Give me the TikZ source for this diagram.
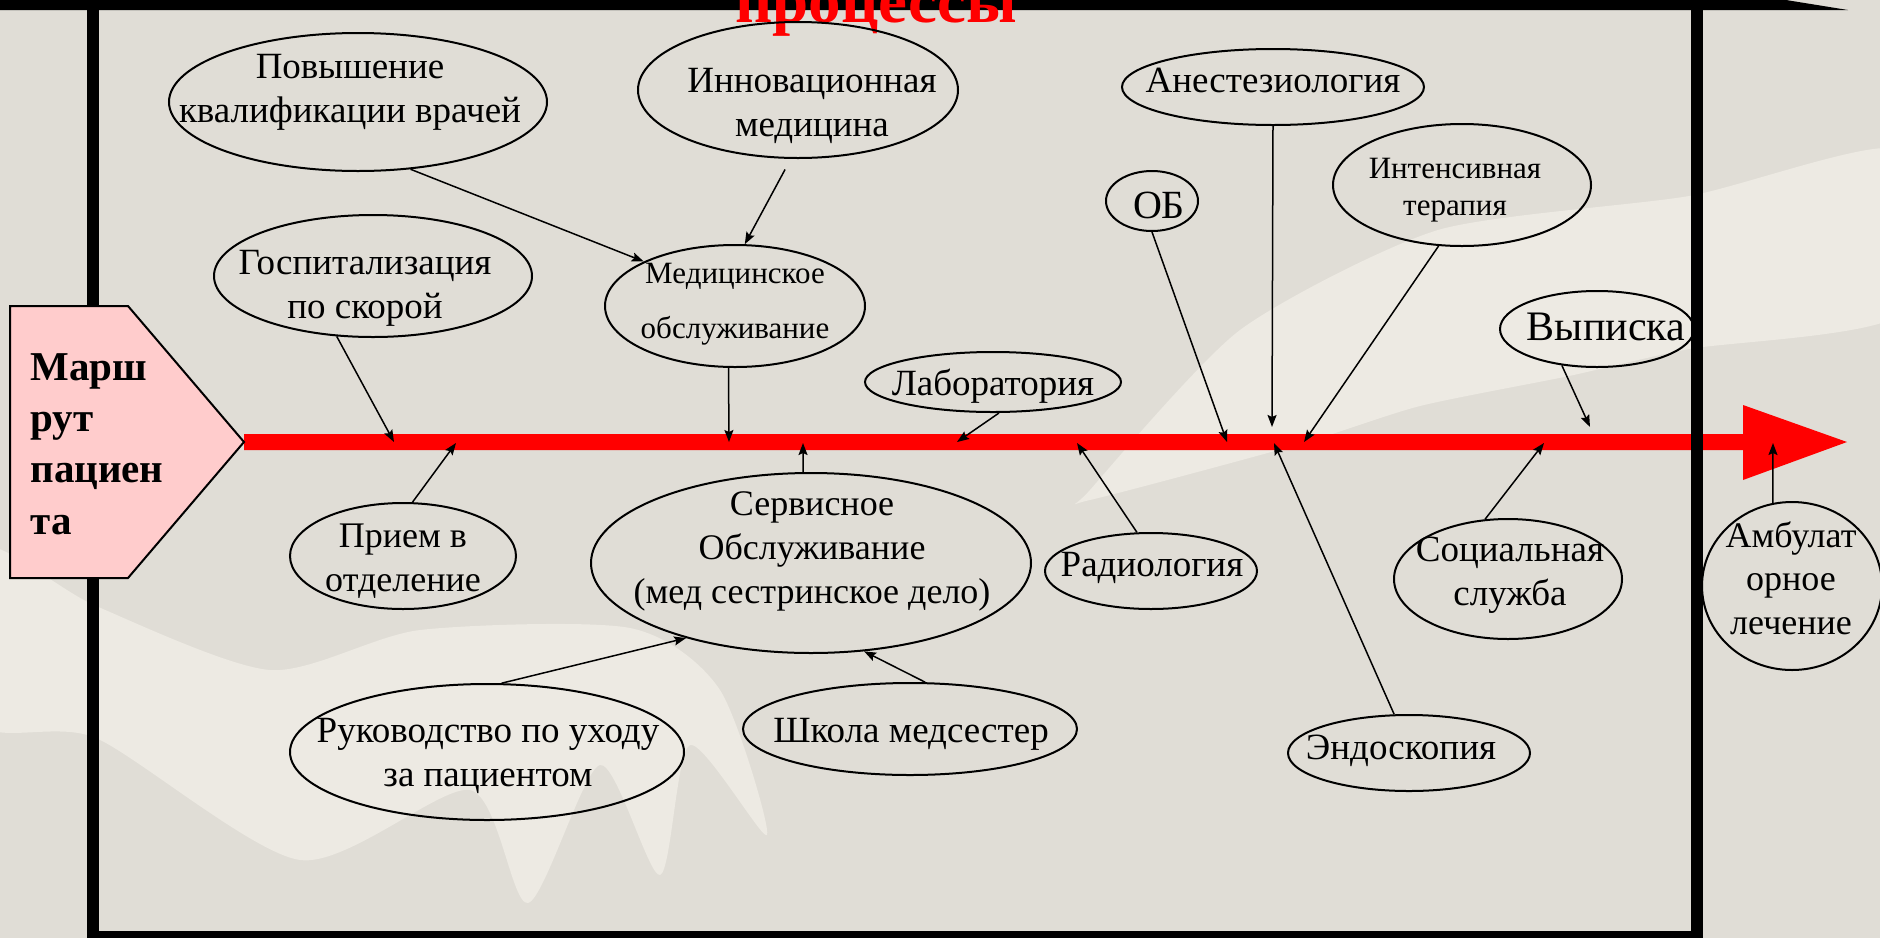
\documentclass[tikz,border=0pt]{standalone}
\usepackage{fontspec}
\setmainfont{Liberation Serif}
\usetikzlibrary{arrows.meta}
\usetikzlibrary{shapes.geometric}

\definecolor{slide}{RGB}{224,221,214}
\definecolor{slidelight}{RGB}{237,234,227}
\definecolor{pinkbox}{RGB}{255,204,204}

\tikzset{
    oval/.style 2 args={draw, ellipse, line width=1pt, inner sep=0pt,
        minimum width=#1pt, minimum height=#2pt},
    lbl/.style={align=center, inner sep=0pt, font=\fontsize{18.5}{22}\selectfont},
    link/.style={-{Stealth[length=6pt, width=4.5pt, inset=1pt]}, line width=0.75pt},
}

\begin{document}
\begin{tikzpicture}[x=0.5pt, y=-0.5pt]
    \useasboundingbox (0,0) rectangle (1880,938);
    \fill[slide] (0,0) rectangle (1880,938);

    % Faint hands in the background
    \fill[slidelight] plot[smooth cycle, tension=0.45] coordinates {(-20,548) (96,606) (270,670) (420,630)
        (630,628) (720,690) (767,835) (690,745) (660,875) (600,765) (528,903) (470,790) (300,860)
        (96,738) (-20,722)};
    \fill[slidelight] plot[smooth cycle, tension=0.4] coordinates {(1090,490) (1240,330) (1438,230)
        (1689,196) (1900,150) (1900,314) (1689,349) (1569,376) (1420,406) (1300,444) (1090,500)};

    % Frame
    \fill[black] (0,0) -- (1786,0) -- (1848,10) -- (0,10) -- cycle;
    \fill[black] (87,0) rectangle (99,938);
    \fill[black] (87,931) rectangle (1703,938);

    % Title (cut by the top edge)
    \node[anchor=base, inner sep=0pt, text=red, font=\fontsize{32.5}{36}\selectfont\bfseries] (title) at (876,22) {процессы};

    % Spine
    \coordinate (tip) at (244,442);
    \coordinate (head) at (1847,442);
    \fill[red] (244,434) -- (1743,434) -- (1743,405) -- (head) -- (1743,480) -- (1743,450) -- (244,450) -- cycle;
    \fill[black] (1691,0) rectangle (1703,938);

    % Patient route
    \draw[fill=pinkbox, line width=1pt] (10,306) -- (128,306) -- (tip) -- (128,578) -- (10,578) -- cycle;
    \node[anchor=west, align=left, inner sep=0pt, font=\fontsize{20.5}{25.7}\selectfont\bfseries] (route) at (30,444) {Марш\\рут\\пациен\\та};

    % Above the spine
    \node[oval={189}{69}] (pov) at (358,102) {};
    \node[lbl] (pov-t) at (350,92) {Повышение\\квалификации врачей};
    \node[oval={160}{68}] (inn) at (798,90) {};
    \node[lbl] (inn-t) at (812,106) {Инновационная\\медицина};
    \node[oval={151}{38}] (anest) at (1273,87) {};
    \node[lbl, anchor=base] (anest-t) at (1273,92) {Анестезиология};
    \node[oval={46}{30}] (ob) at (1152,201) {};
    \node[lbl, anchor=base, font=\fontsize{20}{24}\selectfont] (ob-t) at (1159,218) {ОБ};
    \node[oval={129}{61}] (intens) at (1462,185) {};
    \node[lbl, font=\fontsize{15.5}{18.5}\selectfont] (intens-t) at (1455,190) {Интенсивная\\терапия};
    \node[oval={159}{61}] (gosp) at (373,276) {};
    \node[lbl] (gosp-t) at (365,288) {Госпитализация\\по скорой};
    \node[oval={130}{61}] (med) at (735,306) {};
    \node[lbl, font=\fontsize{15.5}{27.5}\selectfont] (med-t) at (735,304) {Медицинское\\обслуживание};
    \node[oval={128}{30}] (lab) at (993,382) {};
    \node[lbl, anchor=base] (lab-t) at (993,395) {Лаборатория};
    \node[oval={97}{38}] (vyp) at (1597,329) {};
    \node[lbl, anchor=base, font=\fontsize{21}{25}\selectfont] (vyp-t) at (1606,340) {Выписка};

    % Below the spine
    \node[oval={113}{53}] (priem) at (403,556) {};
    \node[lbl, font=\fontsize{18}{22}\selectfont] (priem-t) at (403,561) {Прием в\\отделение};
    \node[oval={220}{90}] (serv) at (811,563) {};
    \node[lbl, font=\fontsize{18}{22}\selectfont] (serv-t) at (812,551) {Сервисное\\Обслуживание\\(мед сестринское дело)};
    \node[oval={106}{38}] (radio) at (1151,571) {};
    \node[lbl, anchor=base] (radio-t) at (1152,576) {Радиология};
    \node[oval={114}{60}] (soc) at (1508,579) {};
    \node[lbl] (soc-t) at (1510,575) {Социальная\\служба};
    \node[oval={121}{38}] (endo) at (1409,753) {};
    \node[lbl, anchor=base] (endo-t) at (1401,759) {Эндоскопия};
    \node[oval={90}{84}] (amb) at (1792,586) {};
    \node[lbl, font=\fontsize{18}{21.75}\selectfont] (amb-t) at (1791,578) {Амбулат\\орное\\лечение};
    \node[oval={197}{68}] (ruk) at (487,752) {};
    \node[lbl] (ruk-t) at (488,756) {Руководство по уходу\\за пациентом};
    \node[oval={167}{46}] (shk) at (910,729) {};
    \node[lbl, anchor=base] (shk-t) at (911,742) {Школа медсестер};

    % Points on the spine
    \foreach \n/\x/\y in {gosp/394/442, med/729/442, lab/957/442, ob/1227/442,
                          anest/1272/427, intens/1304/442, vyp/1590/427,
                          priem/456/443, serv/803/443, radio/1077/443,
                          endo/1274/443, soc/1544/443, amb/1773/443}
        \coordinate (\n-s) at (\x,\y);

    % Arrows into the spine
    \foreach \n/\a in {gosp/-121, med/-96, lab/-79, ob/-90, anest/-90, intens/-111,
                       vyp/-134, priem/80, serv/95, radio/110, endo/111, soc/111, amb/103}
        \draw[link] (\n.\a) -- (\n-s);

    % Arrows between ovals
    \draw[link] (pov.-52) -- (med.154);
    \draw[link, shorten <=6pt] (inn.-96) -- (med.81);
    \draw[link] (ruk.78) -- (serv.-149);
    \draw[link] (shk.72) -- (serv.-59);
\end{tikzpicture}
\end{document}
